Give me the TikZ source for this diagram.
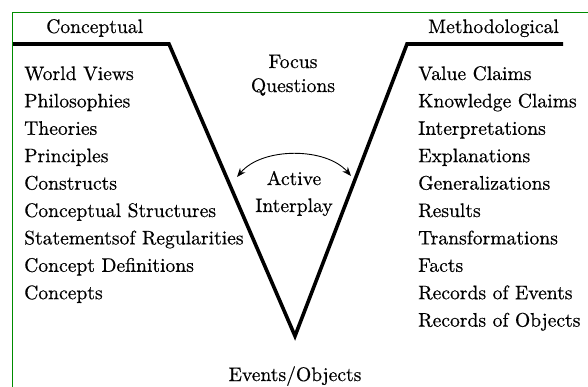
\documentclass[tikz,border=0pt]{standalone}
\usepackage{fontspec}
\newfontfamily\labelfont{lmroman10-regular.otf}[FakeBold=0.5]
\usetikzlibrary{arrows.meta}
\definecolor{framegreen}{RGB}{0,140,0}
\begin{document}
\begin{tikzpicture}[x=1pt,y=-1pt,
  every node/.style={font=\labelfont\fontsize{19.6}{25}\selectfont, inner sep=0pt},
  item/.style={anchor=base west},
  head/.style={anchor=base west},
  mid/.style={anchor=base},
  vee/.style={line width=3.6pt, line join=miter, line cap=butt},
  interplay/.style={line width=0.9pt, {Stealth[length=9pt,width=7pt]}-{Stealth[length=9pt,width=7pt]}}]
\useasboundingbox (0,0) rectangle (588,387);
\fill[white] (0,0) rectangle (588,387);

% green frame, open at the right and bottom
\draw[framegreen, line width=1.2pt] (12.6,387) -- (12.6,12.4) -- (588,12.4);

% the V
\coordinate (tl) at (13,44);
\coordinate (vl) at (169,44);
\coordinate (vb) at (295,336);
\coordinate (vr) at (407,44);
\coordinate (tr) at (563,44);
\draw[vee] (tl) -- (vl) -- (vb) -- (vr) -- (tr);

% headings
\node[head] (conc) at (46,33) {Conceptual};
\node[head] (meth) at (428,33) {Methodological};

% centre texts
\node[mid] (focus) at (293,68) {Focus};
\node[mid] (quest) at (293,92) {Questions};
\node[mid] (active) at (294,185) {Active};
\node[mid] (inter) at (294,212) {Interplay};
\node[mid] (events) at (295,381) {Events/Objects};

% interplay arrow
\coordinate (al) at (237,177);
\coordinate (ar) at (351,176);
\draw[interplay] (al) .. controls (262,147) and (326,147) .. (ar);

% conceptual side
\foreach \t [count=\i from 0] in {World Views,Philosophies,Theories,Principles,Constructs,Conceptual Structures,Statementsof Regularities,Concept Definitions,Concepts}
  \node[item] (c\i) at (24,80+27.4*\i) {\t};

% methodological side
\foreach \t [count=\i from 0] in {Value Claims,Knowledge Claims,Interpretations,Explanations,Generalizations,Results,Transformations,Facts,Records of Events,Records of Objects}
  \node[item] (m\i) at (418,80+27.4*\i) {\t};
\end{tikzpicture}
\end{document}
